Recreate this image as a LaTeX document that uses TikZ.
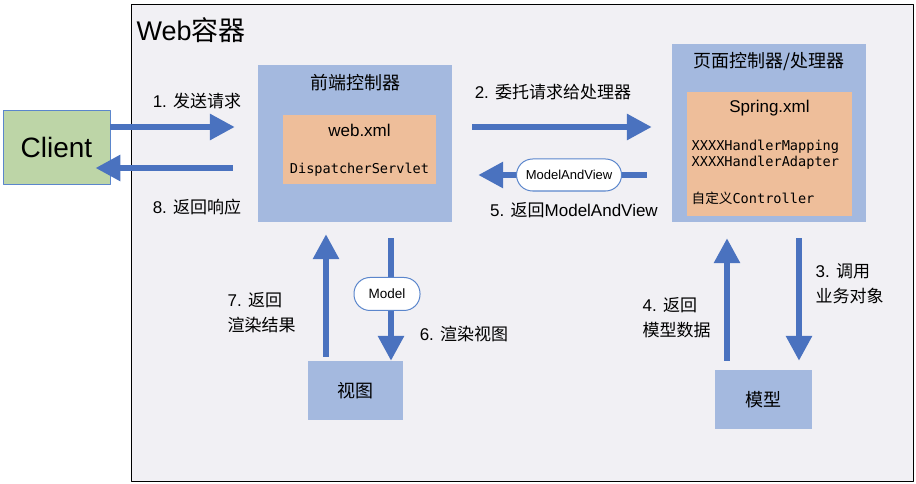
\documentclass[tikz,border=0pt]{standalone}
\usepackage{fontspec}
\setmainfont{Liberation Sans}
\setmonofont{DejaVu Sans Mono}
\newfontfamily\cjk{Noto Sans CJK SC}
\usetikzlibrary{arrows.meta}

\definecolor{webbg}{HTML}{F1F0F4}
\definecolor{boxblue}{HTML}{A4B9DF}
\definecolor{xmlorange}{HTML}{EEBE9A}
\definecolor{clientgreen}{HTML}{BDD5A7}
\definecolor{flowblue}{HTML}{4A72BF}
\definecolor{pillblue}{HTML}{5B86CC}

\begin{document}
\begin{tikzpicture}[
  x=1pt, y=-1pt,
  line join=round,
  every node/.style={inner sep=1.5pt},
  container/.style={draw=black, line width=0.9pt, fill=webbg, inner sep=0pt},
  client/.style={draw=pillblue, line width=0.9pt, fill=clientgreen, inner sep=0pt,
    minimum width=107pt, minimum height=74pt, font=\fontsize{28}{30}\selectfont},
  box/.style={fill=boxblue, inner sep=0pt},
  xmlbox/.style={fill=xmlorange, inner sep=0pt},
  boxtitle/.style={font=\fontsize{18}{20}\selectfont},
  xmlname/.style={font=\fontsize{17}{20}\selectfont},
  code/.style={font=\ttfamily\fontsize{13.6}{16}\selectfont},
  lbl/.style={font=\fontsize{17}{25}\selectfont, align=left},
  pill/.style={draw=pillblue, line width=1pt, fill=white, rounded corners=16pt,
    inner sep=0pt, font=\fontsize{13}{15}\selectfont},
  flow/.style={draw=flowblue, line width=6pt, -{Triangle[width=25pt,length=25pt]}},
]
\useasboundingbox (0,0) rectangle (916,484);

\node[container, minimum width=782pt, minimum height=477pt, anchor=north west] (web) at (131,4) {};
\node[anchor=west, font=\fontsize{27}{29}\selectfont] (webtitle) at (135,30) {Web{\cjk 容器}};

\node[client] (client) at (56.5,147) {Client};

\node[box, minimum width=194pt, minimum height=157pt] (front) at (355,143.5) {};
\node[boxtitle] (fronttitle) at (355,83) {\cjk 前端控制器};
\node[xmlbox, minimum width=153pt, minimum height=69pt] (webxml) at (359.5,149.5) {};
\node[xmlname] (webxmlname) at (359.5,130) {web.xml};
\node[code] (dispatcher) at (359.5,170) {DispatcherServlet};

\node[box, minimum width=194pt, minimum height=178pt] (handler) at (769,133) {};
\node[boxtitle] (handlertitle) at (769,62) {\cjk 页面控制器/处理器};
\node[xmlbox, minimum width=165pt, minimum height=124pt] (springxml) at (769.5,154) {};
\node[xmlname] (springxmlname) at (769.5,108) {Spring.xml};
\node[code, anchor=west, align=left] (mapping) at (690,155) {XXXXHandlerMapping\\XXXXHandlerAdapter};
\node[code, anchor=west] (controller) at (690,198) {{\cjk 自定义}Controller};

\node[box, minimum width=95pt, minimum height=59pt, boxtitle] (view) at (355.5,390.5) {\cjk 视图};
\node[box, minimum width=97pt, minimum height=59pt, boxtitle] (model) at (763.5,399.5) {\cjk 模型};

\draw[flow, shorten >=23pt] ([yshift=20pt]client.east) -- ([yshift=20pt]client.east -| front.west);
\draw[flow, shorten <=25pt, shorten >=-15pt] ([yshift=-24.5pt]front.west) -- ([yshift=-24.5pt]front.west -| client.east);
\draw[flow, shorten <=20pt, shorten >=20pt] ([yshift=16.5pt]front.east) -- ([yshift=16.5pt]front.east -| handler.west);
\draw[flow, shorten <=25pt, shorten >=26pt] ([yshift=-42pt]handler.west) -- ([yshift=-42pt]handler.west -| front.east)
  node[pill, pos=0.468, minimum width=105pt, minimum height=32pt] (mav) {ModelAndView};
\draw[flow, shorten <=16pt, shorten >=0pt] ([xshift=36pt]front.south) -- ([xshift=36pt]front.south |- view.north)
  node[pill, pos=0.518, xshift=-4pt, minimum width=66pt, minimum height=33pt, font=\fontsize{13.5}{15}\selectfont] (mdl) {Model};
\draw[flow, shorten <=4pt, shorten >=12pt] ([xshift=-29.5pt]view.north) -- ([xshift=-29.5pt]view.north |- front.south);
\draw[flow, shorten <=16pt, shorten >=9pt] ([xshift=30pt]handler.south) -- ([xshift=30pt]handler.south |- model.north);
\draw[flow, shorten <=9pt, shorten >=16pt] ([xshift=-36.5pt]model.north) -- ([xshift=-36.5pt]model.north |- handler.south);

\node[lbl] (send) at (197,101) {1. {\cjk 发送请求}};
\node[lbl] (reply) at (197,207) {8. {\cjk 返回响应}};
\node[lbl] (delegate) at (553,92) {2. {\cjk 委托请求给处理器}};
\node[lbl] (backmav) at (574,210) {5. {\cjk 返回}ModelAndView};
\node[lbl] (render) at (464,334) {6. {\cjk 渲染视图}};
\node[lbl, anchor=west] (result) at (226,313) {7. {\cjk 返回}\\{\cjk 渲染结果}};
\node[lbl, anchor=west] (call) at (814,284) {3. {\cjk 调用}\\{\cjk 业务对象}};
\node[lbl, anchor=west] (data) at (641,318) {4. {\cjk 返回}\\{\cjk 模型数据}};
\end{tikzpicture}
\end{document}
